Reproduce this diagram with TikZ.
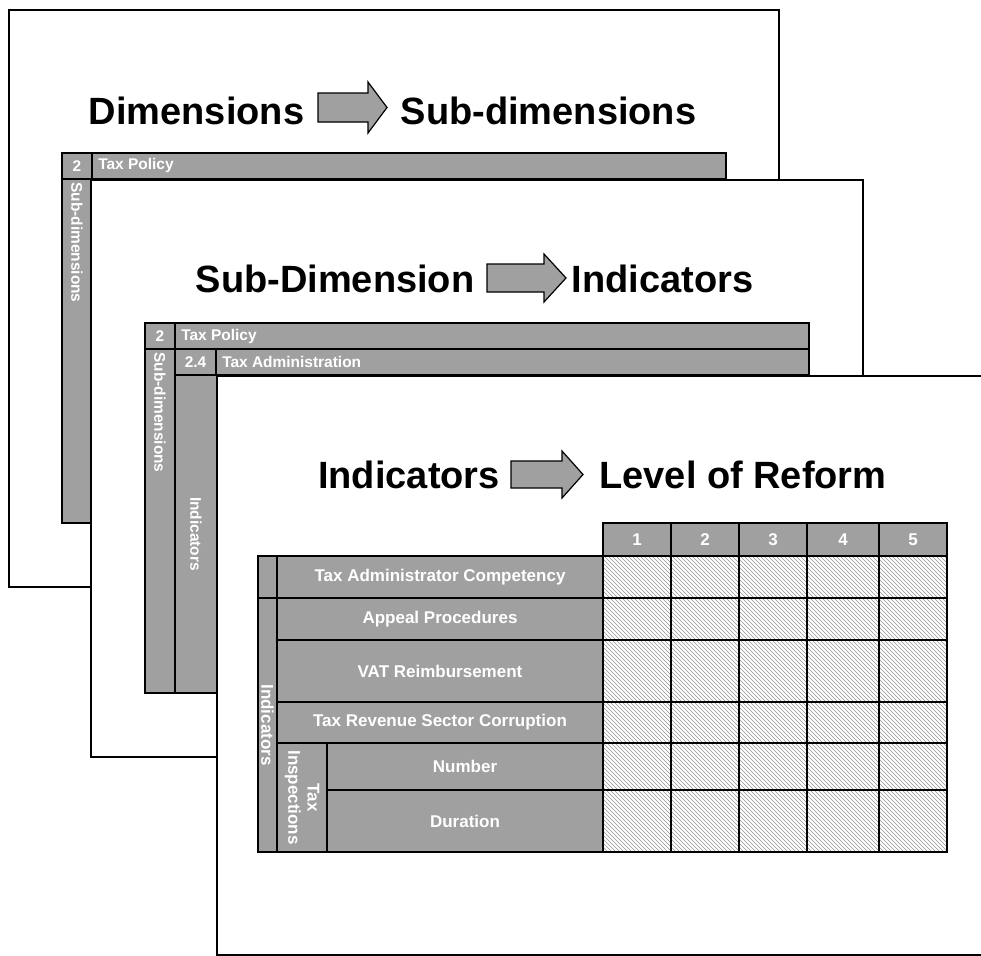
\documentclass[tikz,border=0pt]{standalone}
\usepackage{fontspec}
\setmainfont{Liberation Sans}
\usepackage{tikz}
\usetikzlibrary{patterns}
\definecolor{cellgray}{RGB}{160,160,160}
\definecolor{hatchgray}{RGB}{150,150,150}

\begin{document}
\begin{tikzpicture}[x=0.75pt,y=0.75pt,yscale=-1,xscale=1,
    slide/.style={draw, fill=white, line width=1.3pt},
    cell/.style={draw, fill=cellgray, line width=1.5pt},
    hatchcell/.style={draw, line width=1.5pt, pattern=north west lines, pattern color=hatchgray},
    titletext/.style={anchor=base, inner sep=0pt, font=\bfseries\fontsize{28.5}{32}\selectfont},
    bartext/.style={text=white, inner sep=0.75pt, font=\bfseries\fontsize{11.6}{13}\selectfont},
    celltext/.style={text=white, inner sep=0.75pt, align=center, font=\bfseries\fontsize{12.75}{14.5}\selectfont},
    bigarrow/.style={draw, fill=cellgray, line width=0.9pt}]
    \useasboundingbox (0,0) rectangle (981,956);
    \clip (0,0) rectangle (981,956);

    %Slide 1: dimensions
    \draw[slide] (9,10) rectangle (779,587);
    \node[titletext] (dimA) at (196.5,124) {Dimensions};
    \draw[bigarrow] (318,93) -- (368,93) -- (368,82) -- (387,107.5) -- (368,133) -- (368,122) -- (318,122) -- cycle;
    \node[titletext] (subA) at (548.5,124) {Sub-dimensions};
    \draw[cell] (62,153) rectangle (92,179);
    \draw[cell] (92,153) rectangle (726,179);
    \draw[cell] (62,179) rectangle (92,523);
    \node[bartext] (numA) at (77,166) {2};
    \node[bartext, anchor=west] (polA) at (97,166) {Tax Policy};
    \node[bartext, rotate=-90, anchor=west] (colA) at (77,181) {Sub-dimensions};

    %Slide 2: sub-dimension
    \draw[slide] (91,180) rectangle (863,757);
    \node[titletext] (subB) at (335,292) {Sub-Dimension};
    \draw[bigarrow] (487,264) -- (544,264) -- (544,254) -- (566,278) -- (544,302) -- (544,292) -- (487,292) -- cycle;
    \node[titletext] (indB) at (662.5,292) {Indicators};
    \draw[cell] (145,323) rectangle (175,349);
    \draw[cell] (175,323) rectangle (809,349);
    \draw[cell] (175,349) rectangle (216,375);
    \draw[cell] (216,349) rectangle (809,375);
    \draw[cell] (145,349) rectangle (175,693);
    \draw[cell] (175,375) rectangle (217,693);
    \node[bartext] (numB) at (160,336) {2};
    \node[bartext, anchor=west] (polB) at (180,336) {Tax Policy};
    \node[bartext] (numBB) at (195.5,362) {2.4};
    \node[bartext, anchor=west] (admB) at (221,362) {Tax Administration};
    \node[bartext, rotate=-90, anchor=west] (colB) at (160,351) {Sub-dimensions};
    \node[bartext, rotate=-90] (colBB) at (196,534) {Indicators};

    %Slide 3: indicators
    \draw[slide] (217,376) rectangle (995,955);
    \node[titletext] (indC) at (409,488) {Indicators};
    \draw[bigarrow] (511,461) -- (562,461) -- (562,451) -- (583,474.5) -- (562,498) -- (562,488) -- (511,488) -- cycle;
    \node[titletext] (lvlC) at (743,488) {Level of Reform};

    \foreach \xa/\xb [count=\i] in {603/671,671/739,739/807,807/879,879/947} {
        \draw[cell] (\xa,523) rectangle (\xb,556);
        \node[celltext] (lvl\i) at ({(\xa+\xb)/2},539.5) {\i};
        \foreach \ya/\yb in {556/598,598/640,640/702,702/743,743/790,790/852}
            \draw[hatchcell] (\xa,\ya) rectangle (\xb,\yb);
    }

    \draw[cell] (258,556) rectangle (277,598);
    \draw[cell] (258,598) rectangle (277,852);
    \node[celltext, rotate=-90] (indcol) at (267.5,725) {Indicators};

    \foreach \ya/\yb/\lbl [count=\i] in {556/598/Tax Administrator Competency,598/640/Appeal Procedures,640/702/VAT Reimbursement,702/743/Tax Revenue Sector Corruption} {
        \draw[cell] (277,\ya) rectangle (603,\yb);
        \node[celltext] (row\i) at (440,{(\ya+\yb)/2}) {\lbl};
    }

    \draw[cell] (277,743) rectangle (327,852);
    \node[celltext, rotate=-90] (taxinsp) at (302,797.5) {Tax\\Inspections};
    \draw[cell] (327,743) rectangle (603,790);
    \node[celltext] (number) at (465,766.5) {Number};
    \draw[cell] (327,790) rectangle (603,852);
    \node[celltext] (duration) at (465,821) {Duration};

\end{tikzpicture}
\end{document}
